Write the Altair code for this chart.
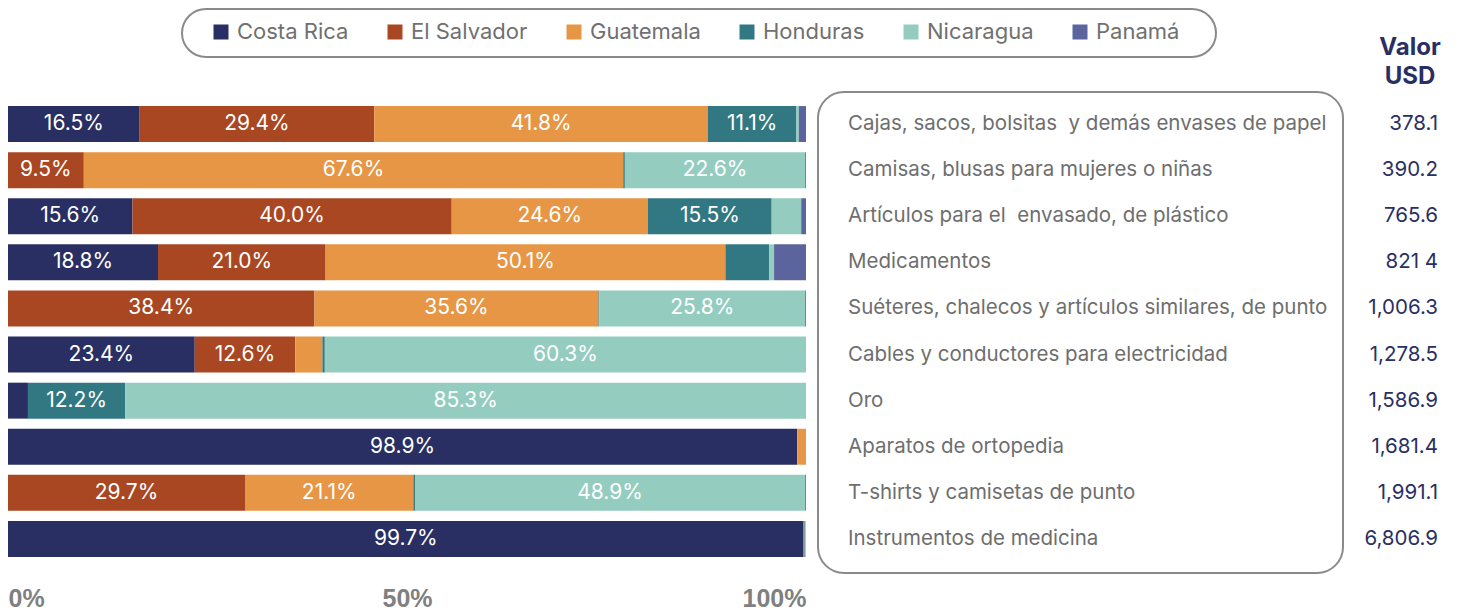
import altair as alt
import pandas as pd

products = [
    "Cajas, sacos, bolsitas  y demás envases de papel",
    "Camisas, blusas para mujeres o niñas",
    "Artículos para el  envasado, de plástico",
    "Medicamentos",
    "Suéteres, chalecos y artículos similares, de punto",
    "Cables y conductores para electricidad",
    "Oro",
    "Aparatos de ortopedia",
    "T-shirts y camisetas de punto",
    "Instrumentos de medicina",
]
countries = ["Costa Rica", "El Salvador", "Guatemala", "Honduras", "Nicaragua", "Panamá"]
costa_rica = [16.5, 0.0, 15.6, 18.8, 0.0, 23.4, 2.5, 98.9, 0.0, 99.7]
el_salvador = [29.4, 9.5, 40.0, 21.0, 38.4, 12.6, 0.0, 0.0, 29.7, 0.0]
guatemala = [41.8, 67.6, 24.6, 50.1, 35.6, 3.4, 0.0, 1.1, 21.1, 0.1]
honduras = [11.1, 0.2, 15.5, 5.5, 0.1, 0.3, 12.2, 0.0, 0.2, 0.1]
nicaragua = [0.3, 22.6, 3.7, 0.6, 25.8, 60.3, 85.3, 0.0, 48.9, 0.1]
panama = [0.9, 0.1, 0.6, 4.0, 0.1, 0.0, 0.0, 0.0, 0.1, 0.0]
valor_usd = ["378.1", "390.2", "765.6", "821 4", "1,006.3", "1,278.5",
             "1,586.9", "1,681.4", "1,991.1", "6,806.9"]
colors = ["#2a2f63", "#a84722", "#e69645", "#317882", "#94cdbf", "#5b649c"]

series = [costa_rica, el_salvador, guatemala, honduras, nicaragua, panama]
rows = []
for ci, (c, vals) in enumerate(zip(countries, series)):
    for p, v in zip(products, vals):
        if v > 0:
            rows.append({"product": p, "country": c, "order": ci, "value": v})
df = pd.DataFrame(rows)
# keep double spaces visible in SVG text
df_right = pd.DataFrame({"product": products,
                         "shown": [p.replace("  ", " \u00a0") for p in products],
                         "valor": valor_usd})
one = pd.DataFrame({"a": [0]})

FONT = "Inter"
y_scale = alt.Scale(domain=products, range=[92, 553], paddingInner=0.22, paddingOuter=0.11)
x_scale = alt.Scale(domain=[0, 100], range=[0, 798], nice=False)

base = alt.Chart(df).transform_stack(
    stack="value", groupby=["product"], as_=["x0", "x1"],
    sort=[alt.SortField("order", order="ascending")]
).transform_calculate(mid="(datum.x0 + datum.x1) / 2",
                      lbl="format(datum.value, '.1f') + '%'")

bars = base.mark_bar().encode(
    y=alt.Y("product:N", scale=y_scale,
            axis=alt.Axis(labels=False, ticks=False, title=None, domain=True,
                          domainColor="#e6e6e6", domainWidth=1.5, grid=False)),
    x=alt.X("x0:Q", scale=x_scale,
            axis=alt.Axis(values=[0, 50, 100], labelExpr="datum.value + '%'",
                          labelFont="Liberation Sans", labelFontWeight="bold",
                          labelFontSize=25, labelColor="#808080", labelFlush=True,
                          domain=False, ticks=False, grid=False, title=None,
                          labelPadding=12)),
    x2="x1:Q",
    color=alt.Color("country:N", scale=alt.Scale(domain=countries, range=colors),
                    legend=alt.Legend(orient="none", legendX=202, legendY=12,
                                      direction="horizontal", title=None,
                                      symbolType="square", symbolSize=225,
                                      symbolStrokeWidth=0, labelFont=FONT,
                                      labelFontSize=22, labelColor="#707070",
                                      labelOffset=5, columnPadding=35,
                                      columns=6)),
)

bar_text = base.transform_filter("datum.value >= 9").mark_text(
    color="white", font=FONT, fontSize=21, baseline="middle", align="center"
).encode(
    y=alt.Y("product:N", scale=y_scale, axis=None),
    x=alt.X("mid:Q", scale=x_scale),
    text="lbl:N",
)

box = alt.Chart(one).mark_rect(
    cornerRadius=26, fill="transparent", stroke="#8a8a8a", strokeWidth=2
).encode(x=alt.value(810), x2=alt.value(1335), y=alt.value(83), y2=alt.value(564))

legend_box = alt.Chart(one).mark_rect(
    cornerRadius=25, fill="transparent", stroke="#8a8a8a", strokeWidth=2
).encode(x=alt.value(174), x2=alt.value(1208), y=alt.value(0), y2=alt.value(48))

right_labels = alt.Chart(df_right).mark_text(
    align="left", baseline="middle", font=FONT, fontSize=20.5, color="#6e6e6e"
).encode(
    y=alt.Y("product:N", scale=y_scale, axis=None),
    x=alt.value(840),
    text="shown:N",
)

values = alt.Chart(df_right).mark_text(
    align="right", baseline="middle", font=FONT, fontSize=20.5, color="#2a2f63"
).encode(
    y=alt.Y("product:N", scale=y_scale, axis=None),
    x=alt.value(1430),
    text="valor:N",
)

header1 = alt.Chart(one).mark_text(
    align="center", baseline="middle", font=FONT, fontSize=24, fontWeight="bold",
    color="#2a2f63", text="Valor"
).encode(x=alt.value(1402), y=alt.value(39))
header2 = alt.Chart(one).mark_text(
    align="center", baseline="middle", font=FONT, fontSize=24, fontWeight="bold",
    color="#2a2f63", text="USD"
).encode(x=alt.value(1402), y=alt.value(68))

chart = alt.layer(
    legend_box, box, bars, bar_text, right_labels, values, header1, header2
).properties(width=1432, height=565, padding=0).configure_view(stroke=None)

chart.save("out.html", embed_options={"renderer": "svg", "actions": False})
